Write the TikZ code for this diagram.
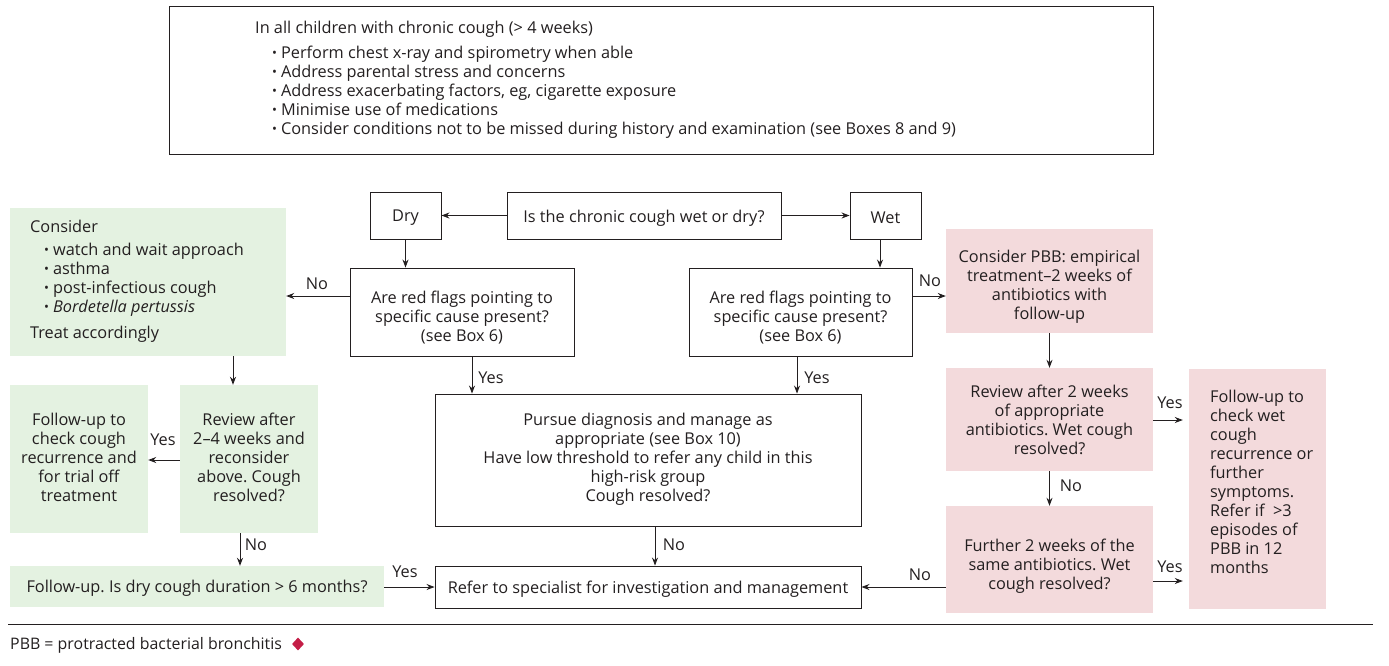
\documentclass[tikz,border=0pt]{standalone}
\usepackage{fontspec}
\setmainfont{Open Sans}
\usetikzlibrary{arrows.meta,shapes.geometric}
\definecolor{ink}{HTML}{231F20}
\definecolor{gfill}{HTML}{E4F2E1}
\definecolor{pfill}{HTML}{F3DADC}
\definecolor{dred}{HTML}{C41E47}
\newcommand\bul{\raisebox{0.15ex}{\scalebox{0.8}{\textbullet}}}
\frenchspacing
\tikzset{
 every node/.style={text=ink, font=\fontsize{16.3}{19}\selectfont},
 box/.style={draw=ink, line width=0.9pt, align=center, inner sep=0pt},
 gbox/.style={fill=gfill, align=center, inner sep=0pt},
 pbox/.style={fill=pfill, align=center, inner sep=0pt},
 txt/.style={align=left, inner sep=0pt, anchor=north west},
 lt/.style={inner sep=0pt, align=center},
 arr/.style={draw=ink, line width=0.9pt, -{Stealth[length=8pt,width=6pt]}},
 lbl/.style={inner sep=0pt},
}
\begin{document}
\begin{tikzpicture}[x=1pt,y=-1pt]
\useasboundingbox (0,0) rectangle (1389,665);
% top box
\node[box, minimum width=984pt, minimum height=148pt] (top) at (661,80) {};
\node[txt] (toptext) at (255,21) {In all children with chronic cough (> 4 weeks)\\[6pt]
\hspace*{17pt}\bul\hspace{4pt}Perform chest x-ray and spirometry when able\\
\hspace*{17pt}\bul\hspace{4pt}Address parental stress and concerns\\
\hspace*{17pt}\bul\hspace{4pt}Address exacerbating factors, eg, cigarette exposure\\
\hspace*{17pt}\bul\hspace{4pt}Minimise use of medications\\
\hspace*{17pt}\bul\hspace{4pt}Consider conditions not to be missed during history and examination (see Boxes 8 and 9)};
% row 1
\node[box, minimum width=274pt, minimum height=47pt,
  label={[lt, yshift=-3pt]center:{Is the chronic cough wet or dry?}}] (q) at (644,215.5) {};
\node[box, minimum width=71pt, minimum height=47pt,
  label={[lt, yshift=-2pt]center:{Dry}}] (dry) at (405.5,215.5) {};
\node[box, minimum width=71pt, minimum height=47pt,
  label={[lt, yshift=-2pt]center:{Wet}}] (wet) at (885.5,215.5) {};
% red flag boxes
\node[box, minimum width=224pt, minimum height=88pt,
  label={[lt, yshift=-6pt]center:{Are red flags pointing to\\ specific cause present?\\ (see Box 6)}}] (rfL) at (462,312) {};
\node[box, minimum width=223pt, minimum height=88pt,
  label={[lt, yshift=-6pt]center:{Are red flags pointing to\\ specific cause present?\\ (see Box 6)}}] (rfR) at (800.5,312) {};
% green boxes
\node[gbox, minimum width=276pt, minimum height=148pt] (consider) at (148,282) {};
\node[txt] (considertext) at (30,220) {Consider\\[4pt]
\hspace*{14pt}\bul\hspace{4pt}watch and wait approach\\
\hspace*{14pt}\bul\hspace{4pt}asthma\\
\hspace*{14pt}\bul\hspace{4pt}post-infectious cough\\
\hspace*{14pt}\bul\hspace{4pt}\textit{Bordetella pertussis}\\[7pt]
Treat accordingly};
\node[gbox, minimum width=138pt, minimum height=148pt,
  label={[lt, yshift=2pt]center:{Follow-up to\\ check cough\\ recurrence and\\ for trial off\\ treatment}}] (fuL) at (79,459) {};
\node[gbox, minimum width=138pt, minimum height=148pt,
  label={[lt, yshift=2pt]center:{Review after\\ 2--4 weeks and\\ reconsider\\ above. Cough\\ resolved?}}] (revL) at (249,459) {};
\node[gbox, minimum width=374pt, minimum height=41pt,
  label={[lt, yshift=-2pt]center:{Follow-up. Is dry cough duration > 6 months?}}] (dur) at (197,586.5) {};
% centre boxes
\node[box, minimum width=426pt, minimum height=132pt,
  label={[lt, yshift=1pt]center:{Pursue diagnosis and manage as\\ appropriate (see Box 10)\\ Have low threshold to refer any child in this\\ high-risk group\\ Cough resolved?}}] (pursue) at (648,460) {};
\node[box, minimum width=426pt, minimum height=42pt,
  label={[lt, yshift=-2pt]center:{Refer to specialist for investigation and management}}] (refer) at (648,587) {};
% pink boxes
\node[pbox, minimum width=207pt, minimum height=104pt,
  label={[lt, yshift=-6pt]center:{Consider PBB: empirical\\ treatment--2 weeks of\\ antibiotics with\\ follow-up}}] (pbb) at (1049.5,281) {};
\node[pbox, minimum width=207pt, minimum height=103pt,
  label={[lt, yshift=0pt]center:{Review after 2 weeks\\ of appropriate\\ antibiotics. Wet cough\\ resolved?}}] (revR) at (1049.5,419.5) {};
\node[pbox, minimum width=207pt, minimum height=107pt,
  label={[lt, yshift=-7pt]center:{Further 2 weeks of the\\ same antibiotics. Wet\\ cough resolved?}}] (further) at (1049.5,559.5) {};
\node[pbox, minimum width=137pt, minimum height=240pt] (fuR) at (1257.5,489) {};
\node[txt] (fuRtext) at (1210,390) {Follow-up to\\ check wet\\ cough\\ recurrence or\\ further\\ symptoms.\\ Refer if \ >3\\ episodes of\\ PBB in 12\\ months};
% helper coordinates
\coordinate (y296) at (0,296);
\coordinate (y420) at (0,420);
\coordinate (y460) at (0,460);
\coordinate (y587) at (0,587);
\coordinate (y581) at (0,581);
\coordinate (x233) at (233,0);
\coordinate (x240) at (240,0);
\coordinate (x472) at (472,0);
\coordinate (x797) at (797,0);
\coordinate (x655) at (655,0);
\coordinate (x880) at (880,0);
% connectors
\draw[arr] (q.west) -- (dry.east);
\draw[arr] (q.east) -- (wet.west);
\draw[arr] (dry.south) -- (dry.south |- rfL.north);
\draw[arr] (wet.south -| x880) -- (rfR.north -| x880);
\draw[arr] (rfL.west |- y296) -- (consider.east |- y296);
\draw[arr] (rfL.south -| x472) -- (pursue.north -| x472);
\draw[arr] (rfR.south -| x797) -- (pursue.north -| x797);
\draw[arr] (rfR.east |- y296) -- (pbb.west |- y296);
\draw[arr] (pbb.south) -- (revR.north);
\draw[arr, shorten >=6pt] (revR.east |- y420) -- (fuR.west |- y420);
\draw[arr] (revR.south) -- (further.north);
\draw[arr] (further.west |- y587) -- (refer.east |- y587);
\draw[arr, shorten >=6pt] (further.east |- y581) -- (fuR.west |- y581);
\draw[arr] (consider.south -| x233) -- (revL.north -| x233);
\draw[arr] (revL.west |- y460) -- (fuL.east |- y460);
\draw[arr] (revL.south -| x240) -- (dur.north -| x240);
\draw[arr] (dur.east |- y587) -- (refer.west |- y587);
\draw[arr] (pursue.south -| x655) -- (refer.north -| x655);
% labels
\node[lbl] (l1) at (317,284) {No};
\node[lbl] (l2) at (491,378) {Yes};
\node[lbl] (l3) at (817,378) {Yes};
\node[lbl] (l4) at (930,281) {No};
\node[lbl] (l5) at (1170,403) {Yes};
\node[lbl] (l6) at (1071,486) {No};
\node[lbl] (l7) at (920,575) {No};
\node[lbl] (l8) at (1170,567) {Yes};
\node[lbl] (l9) at (163,440) {Yes};
\node[lbl] (l10) at (256,545) {No};
\node[lbl] (l11) at (405,572) {Yes};
\node[lbl] (l12) at (674,545) {No};
% footer
\coordinate (r1) at (8,624);
\coordinate (r2) at (1373,624);
\draw[ink, line width=1pt] (r1) -- (r2);
\node[lbl, anchor=west, font=\fontsize{15.9}{19}\selectfont] (foot) at (10,645) {PBB = protracted bacterial bronchitis};
\node[diamond, fill=dred, inner sep=0pt, minimum width=12pt, minimum height=13pt] (dia) at (298,644) {};
\end{tikzpicture}
\end{document}
